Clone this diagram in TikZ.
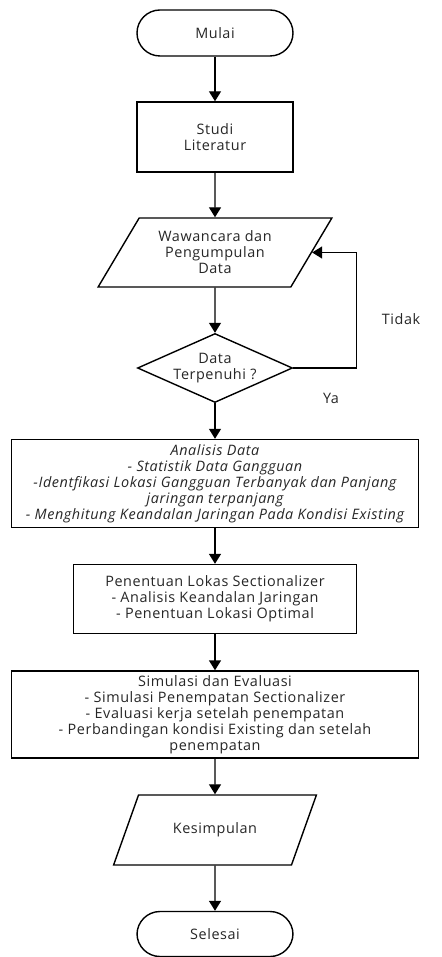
\documentclass[tikz,border=0pt]{standalone}
\usepackage{fontspec}
\setmainfont[LetterSpace=4]{Open Sans}
\usetikzlibrary{shapes.geometric, arrows.meta, positioning}

\begin{document}
\begin{tikzpicture}[node distance=57.75pt, >={Triangle[length=5pt,width=6pt]}, line width=0.7pt,
        every node/.style={font=\fontsize{7.2}{8}\selectfont, text=black!85}, align=center,
        terminal/.style={draw, rectangle, rounded corners=11.5pt, minimum width=78pt, minimum height=23pt},
        proses/.style={draw, rectangle, inner sep=1pt},
        masukan/.style={draw, trapezium, trapezium stretches=true, inner sep=1pt},
        keputusan/.style={draw, diamond, aspect=2.25, inner sep=0pt, minimum width=77.5pt, minimum height=34.5pt}]
        \useasboundingbox (-107.5pt,16.5pt) rectangle (113pt,-462pt);
        \node (mulai) [terminal] {Mulai};
        \node (studi) [proses, below of=mulai, node distance=52pt, minimum width=78pt, minimum height=35pt] {Studi\\Literatur};
        \node (data) [masukan, below of=studi, trapezium left angle=56, trapezium right angle=124, minimum width=117.5pt, minimum height=34.5pt] {Wawancara dan\\Pengumpulan\\Data};
        \node (cek) [keputusan, below of=data] {Data\\Terpenuhi ?};
        \node (analisis) [proses, below of=cek, minimum width=203.5pt, minimum height=44pt, font=\fontsize{7.2}{8}\selectfont\itshape] {Analisis Data\\- Statistik Data Gangguan\\-Identfikasi Lokasi Gangguan Terbanyak dan Panjang\\jaringan terpanjang\\- Menghitung Keandalan Jaringan Pada Kondisi Existing};
        \node (lokasi) [proses, below of=analisis, minimum width=141.5pt, minimum height=34.5pt] {Penentuan Lokas Sectionalizer\\- Analisis Keandalan Jaringan\\- Penentuan Lokasi Optimal};
        \node (simulasi) [proses, below of=lokasi, minimum width=203.5pt, minimum height=43.5pt] {Simulasi dan Evaluasi\\- Simulasi Penempatan Sectionalizer\\- Evaluasi kerja setelah penempatan\\- Perbandingan kondisi Existing dan setelah\\penempatan};
        \node (kesimpulan) [masukan, below of=simulasi, trapezium left angle=52, trapezium right angle=128, minimum width=101.5pt, minimum height=35pt] {Kesimpulan};
        \node (selesai) [terminal, below of=kesimpulan, node distance=52pt, minimum height=22.5pt] {Selesai};

        \node (ya) at ([shift={(58pt,-15.25pt)}]cek) {Ya};
        \node (tidak) at ([shift={(93pt,24.25pt)}]cek) {Tidak};

        \draw [->] (mulai) -- (studi);
        \draw [->] (studi) -- (data);
        \draw [->] (data) -- (cek);
        \draw [->] (cek.east) -- ++(31.5pt,0) |- (data.east);
        \draw [->] (cek) -- (analisis);
        \draw [->] (analisis) -- (lokasi);
        \draw [->] (lokasi) -- (simulasi);
        \draw [->] (simulasi) -- (kesimpulan);
        \draw [->] (kesimpulan) -- (selesai);
    \end{tikzpicture}
\end{document}
